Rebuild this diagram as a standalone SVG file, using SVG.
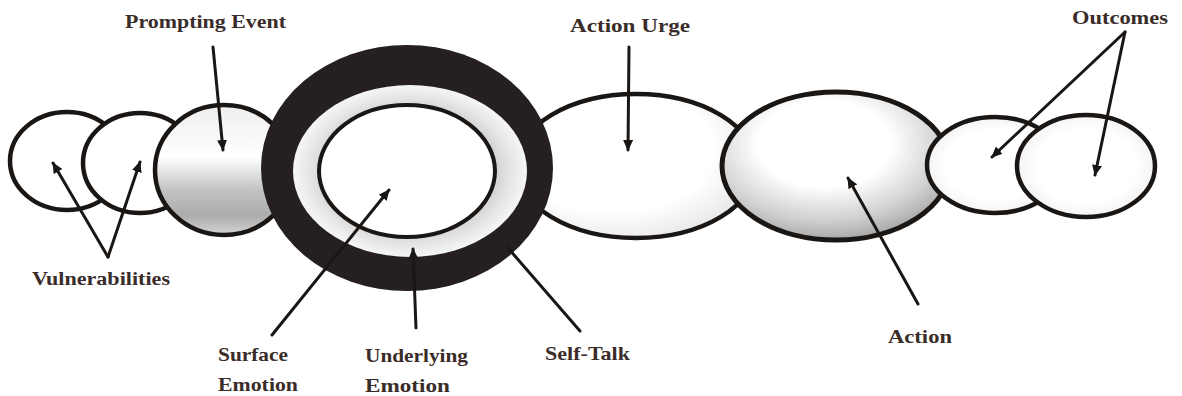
<svg xmlns="http://www.w3.org/2000/svg" width="1182" height="396" viewBox="0 0 1182 396">
<style>
.node{stroke:#1a1614;stroke-width:4.5}
.lbl{font-family:"Liberation Serif","Times New Roman",serif;font-weight:bold;font-size:19px;fill:#3a2d29}
.con{stroke:#1a1614;stroke-width:3;fill:none;stroke-linecap:round}
</style>
<defs>
<marker id="ah" markerUnits="userSpaceOnUse" markerWidth="12" markerHeight="10" refX="10" refY="5" orient="auto">
<path d="M0,0 L11,5 L0,10 Z" fill="#1a1614"/>
</marker>
<linearGradient id="gE3" x1="0" y1="0" x2="0" y2="1">
<stop offset="0" stop-color="#eeeeee"/>
<stop offset="0.4" stop-color="#ffffff"/>
<stop offset="0.65" stop-color="#c4c4c4"/>
<stop offset="0.85" stop-color="#ababab"/>
<stop offset="1" stop-color="#d4d4d4"/>
</linearGradient>
<radialGradient id="gAct" cx="0.45" cy="0.35" r="0.65">
<stop offset="0.45" stop-color="#ffffff"/>
<stop offset="0.8" stop-color="#cfcfcf"/>
<stop offset="1" stop-color="#a9a9a9"/>
</radialGradient>
<radialGradient id="gUrge" cx="0.4" cy="0.4" r="0.7">
<stop offset="0.6" stop-color="#ffffff"/>
<stop offset="1" stop-color="#e2e2e2"/>
</radialGradient>
<radialGradient id="gOut" cx="0.5" cy="0.5" r="0.6">
<stop offset="0.6" stop-color="#ffffff"/>
<stop offset="1" stop-color="#ececec"/>
</radialGradient>
<radialGradient id="gBand" cx="0.5" cy="0.5" r="0.5">
<stop offset="0.7" stop-color="#cdcdcd"/>
<stop offset="0.85" stop-color="#e4e4e4"/>
<stop offset="1" stop-color="#f6f6f6"/>
</radialGradient>
</defs>

<g id="vulnerability-1"><ellipse class="node" cx="67" cy="161" rx="57" ry="49" fill="#ffffff"/></g>
<g id="vulnerability-2"><ellipse class="node" cx="140" cy="163" rx="57" ry="50" fill="#ffffff"/></g>
<g id="prompting-event"><ellipse class="node" cx="224" cy="170" rx="69" ry="65" fill="url(#gE3)"/></g>
<g id="action-urge"><ellipse class="node" cx="636" cy="166" rx="120" ry="72" fill="url(#gUrge)"/></g>
<g id="self-talk-ring">
<ellipse cx="407" cy="168" rx="146" ry="123" fill="#251e23"/>
<ellipse cx="410" cy="171" rx="117" ry="86" fill="url(#gBand)"/>
</g>
<g id="surface-emotion"><ellipse class="node" cx="407" cy="171" rx="88" ry="66" fill="#ffffff" style="stroke-width:4"/></g>
<g id="action"><ellipse class="node" cx="836" cy="166" rx="114" ry="74" fill="url(#gAct)" style="stroke-width:5"/></g>
<g id="outcome-1"><ellipse class="node" cx="995" cy="165" rx="68" ry="48" fill="url(#gOut)"/></g>
<g id="outcome-2"><ellipse class="node" cx="1086" cy="166" rx="69" ry="51" fill="url(#gOut)"/></g>

<g id="connectors">
<line class="con" x1="213" y1="47" x2="223" y2="150" marker-end="url(#ah)"/>
<line class="con" x1="108" y1="257" x2="53" y2="163" marker-end="url(#ah)"/>
<line class="con" x1="108" y1="257" x2="140" y2="162" marker-end="url(#ah)"/>
<line class="con" x1="272" y1="335" x2="389" y2="190" marker-end="url(#ah)"/>
<line class="con" x1="416" y1="328" x2="413" y2="249" marker-end="url(#ah)"/>
<line class="con" x1="580" y1="331" x2="508" y2="248"/>
<line class="con" x1="629" y1="47" x2="628" y2="150" marker-end="url(#ah)"/>
<line class="con" x1="918" y1="304" x2="848" y2="178" marker-end="url(#ah)"/>
<line class="con" x1="1125" y1="32" x2="992" y2="157" marker-end="url(#ah)"/>
<line class="con" x1="1125" y1="32" x2="1095" y2="175" marker-end="url(#ah)"/>
</g>

<g id="labels">
<text class="lbl" x="125" y="28" textLength="161" lengthAdjust="spacingAndGlyphs">Prompting Event</text>
<text class="lbl" x="570" y="32" textLength="120" lengthAdjust="spacingAndGlyphs">Action Urge</text>
<text class="lbl" x="1072" y="24" textLength="96" lengthAdjust="spacingAndGlyphs">Outcomes</text>
<text class="lbl" x="32" y="285" textLength="138" lengthAdjust="spacingAndGlyphs">Vulnerabilities</text>
<text class="lbl" x="218" y="361" textLength="70" lengthAdjust="spacingAndGlyphs">Surface</text>
<text class="lbl" x="218" y="391" textLength="80" lengthAdjust="spacingAndGlyphs">Emotion</text>
<text class="lbl" x="365" y="362" textLength="103" lengthAdjust="spacingAndGlyphs">Underlying</text>
<text class="lbl" x="365" y="392" textLength="85" lengthAdjust="spacingAndGlyphs">Emotion</text>
<text class="lbl" x="545" y="360" textLength="85" lengthAdjust="spacingAndGlyphs">Self-Talk</text>
<text class="lbl" x="888" y="343" textLength="64" lengthAdjust="spacingAndGlyphs">Action</text>
</g>
</svg>
